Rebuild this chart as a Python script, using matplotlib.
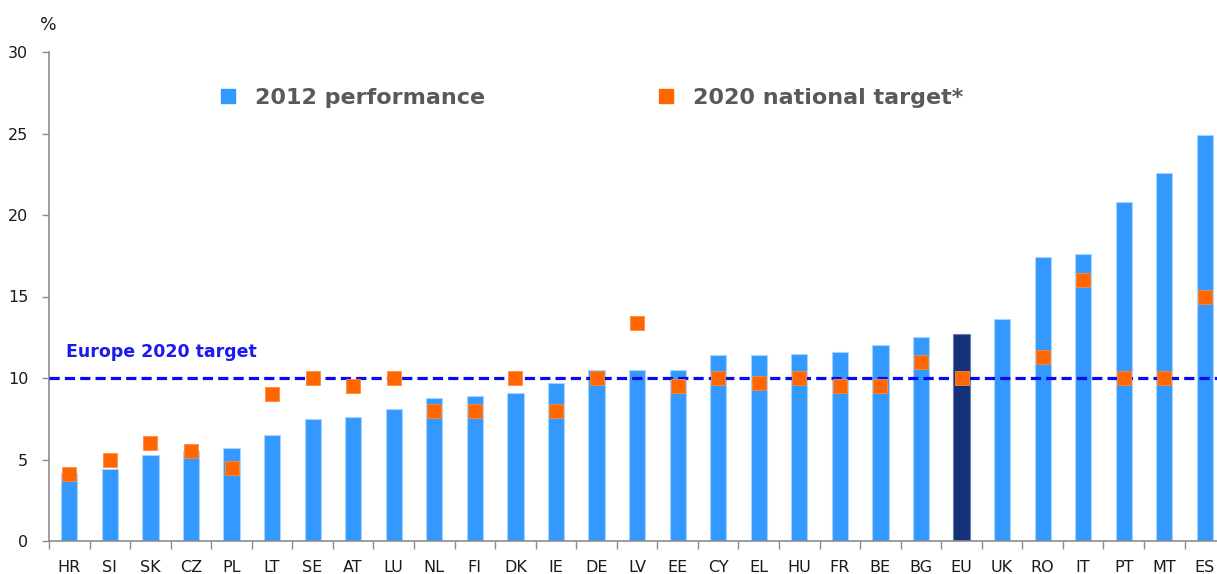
import matplotlib
matplotlib.use("Agg")
import matplotlib.pyplot as plt
from matplotlib.lines import Line2D
import numpy as np

countries = ["HR", "SI", "SK", "CZ", "PL", "LT", "SE", "AT", "LU", "NL", "FI", "DK", "IE",
             "DE", "LV", "EE", "CY", "EL", "HU", "FR", "BE", "BG", "EU", "UK", "RO", "IT",
             "PT", "MT", "ES"]
perf_2012 = [4.2, 4.4, 5.3, 5.5, 5.7, 6.5, 7.5, 7.6, 8.1, 8.8, 8.9, 9.1, 9.7,
             10.5, 10.5, 10.5, 11.4, 11.4, 11.5, 11.6, 12.0, 12.5, 12.7, 13.6, 17.4, 17.6,
             20.8, 22.6, 24.9]
target_2020 = [4.1, 5.0, 6.0, 5.5, 4.5, 9.0, 10.0, 9.5, 10.0, 8.0, 8.0, 10.0, 8.0,
               10.0, 13.4, 9.5, 10.0, 9.7, 10.0, 9.5, 9.5, 11.0, 10.0, np.nan, 11.3, 16.0,
               10.0, 10.0, 15.0]
eu_target = 10
yticks = [0, 5, 10, 15, 20, 25, 30]

W, H = 1217, 574
fig = plt.figure(figsize=(W / 100, H / 100), dpi=100)
ax = fig.add_axes([49 / W, (574 - 541) / H, (W - 49) / W, (541 - 52) / H])

x = np.arange(len(countries))
colors = ["#14317a" if c == "EU" else "#3399ff" for c in countries]
edges = ["#6d7fae" if c == "EU" else "#a9d3ff" for c in countries]
ax.bar(x, perf_2012, width=0.40, color=colors, edgecolor=edges, linewidth=0.8, zorder=2)
ax.axhline(eu_target, color="#0a0aee", linestyle=(0, (3.2, 1.6)), linewidth=2.3, zorder=3)
ax.scatter(x, target_2020, marker="s", s=92, color="#ff6600", edgecolors="#ff8a3d",
           linewidths=0.6, zorder=4)

ax.set_xlim(-0.5, len(countries) - 0.7)
ax.set_ylim(0, 30)
ax.set_yticks(yticks)
ax.set_yticklabels([str(v) for v in yticks], fontsize=11.5, color="#1a1a1a")
ax.set_xticks(x)
ax.set_xticklabels(countries, fontsize=11.5, color="#1a1a1a")
ax.tick_params(axis="x", length=0, pad=14)
ax.set_xticks(np.arange(-0.5, len(countries) - 0.5, 1), minor=True)
ax.tick_params(axis="x", which="minor", length=6, width=1, color="#8c8c8c", direction="out")
ax.tick_params(axis="y", length=5, width=1, color="#8c8c8c", direction="out", pad=10)

for s in ["top", "right"]:
    ax.spines[s].set_visible(False)
for s in ["left", "bottom"]:
    ax.spines[s].set_color("#8c8c8c")
    ax.spines[s].set_linewidth(1.2)

ax.text(-0.08, 11.6, "Europe 2020 target", color="#1a1aee", fontsize=12.5, fontweight="bold",
        va="center", ha="left")
fig.text(40 / W, 1 - 25 / H, "%", fontsize=12.5, color="#1a1a1a", va="center", ha="left")

handles = [Line2D([], [], marker="s", linestyle="", markersize=9.5, color="#3399ff"),
           Line2D([], [], marker="s", linestyle="", markersize=9.5, color="#ff6600")]
leg = ax.legend(handles, ["2012 performance", "2020 national target*"], ncol=2,
                loc="center left", bbox_to_anchor=((217 - 49) / (W - 49), (541 - 98) / (541 - 52)),
                frameon=False, borderpad=0, borderaxespad=0, handlelength=1.0,
                columnspacing=7.65, handletextpad=0.7,
                prop={"size": 16, "weight": "bold"})
for t in leg.get_texts():
    t.set_color("#595959")

fig.savefig("out.png", dpi=100)
